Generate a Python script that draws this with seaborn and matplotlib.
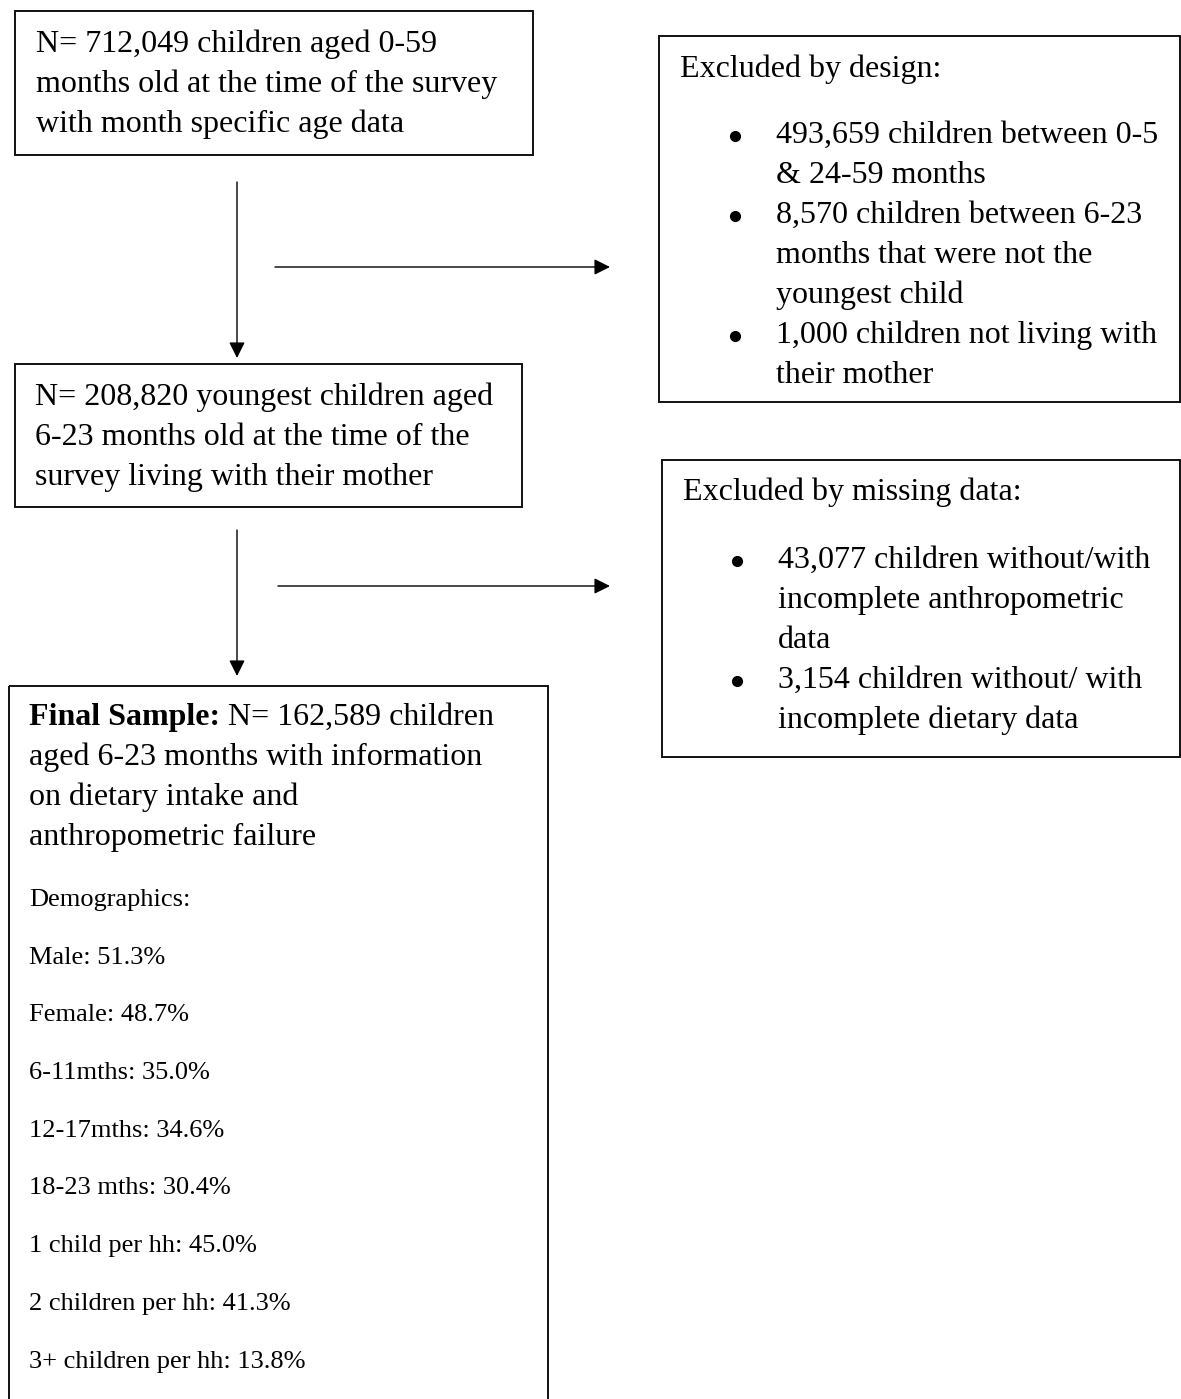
import matplotlib.pyplot as plt
import seaborn as sns
from matplotlib.patches import Rectangle

# ---- texts of the flow chart ----
start_lines = ["N= 712,049 children aged 0-59",
               "months old at the time of the survey",
               "with month specific age data"]
design_title = "Excluded by design:"
design_items = [["493,659 children between 0-5", "& 24-59 months"],
                ["8,570 children between 6-23", "months that were not the", "youngest child"],
                ["1,000 children not living with", "their mother"]]
eligible_lines = ["N= 208,820 youngest children aged",
                  "6-23 months old at the time of the",
                  "survey living with their mother"]
missing_title = "Excluded by missing data:"
missing_items = [["43,077 children without/with", "incomplete anthropometric", "data"],
                 ["3,154 children without/ with", "incomplete dietary data"]]
final_label = "Final Sample:"
final_lines = ["N= 162,589 children",
               "aged 6-23 months with information",
               "on dietary intake and",
               "anthropometric failure"]
demo_title = "Demographics:"
demo_groups = ["Male", "Female", "6-11mths", "12-17mths", "18-23 mths",
               "1 child per hh", "2 children per hh", "3+ children per hh"]
demo_pct = [51.3, 48.7, 35.0, 34.6, 30.4, 45.0, 41.3, 13.8]

sns.set_theme(style='white')
plt.rcParams['font.family'] = ['Liberation Serif', 'DejaVu Serif']
plt.rcParams['text.color'] = 'black'

fig = plt.figure(figsize=(11.81, 13.99), dpi=100)
ax = fig.add_axes([0, 0, 1, 1])
ax.set_xlim(0, 1181)
ax.set_ylim(1399, 0)
ax.axis('off')

FS = 23
LW = 1.4
STEP = 40


def box(x0, y0, x1, y1):
    ax.add_patch(Rectangle((x0, y0), x1 - x0, y1 - y0, fill=False,
                           edgecolor='#111111', linewidth=LW))


def arrow(x0, y0, x1, y1):
    ax.annotate('', xy=(x1, y1), xytext=(x0, y0),
                arrowprops=dict(arrowstyle='-|>', color='black', lw=1.0,
                                mutation_scale=24, shrinkA=0, shrinkB=0))


def lines(x, y0, step, texts, size=FS):
    for i, t in enumerate(texts):
        ax.text(x, y0 + i * step, t, fontsize=size, va='baseline', ha='left')


def bullets(xb, xt, y0, items):
    y = y0
    for item in items:
        ax.plot(xb, y - 7, marker='o', markersize=7, color='black')
        for t in item:
            ax.text(xt, y, t, fontsize=FS, va='baseline', ha='left')
            y += STEP


# box 1
box(15, 11, 533, 155)
lines(36, 52, STEP, start_lines)

# arrows from box 1
arrow(237, 182, 237, 358)
arrow(275, 267, 610, 267)

# excluded by design
box(659, 36, 1180, 402)
lines(680, 77, STEP, [design_title])
bullets(735, 776, 143, design_items)

# box 2
box(15, 364, 522, 507)
lines(35, 405, STEP, eligible_lines)

# arrows from box 2
arrow(237, 530, 237, 676)
arrow(278, 586, 610, 586)

# excluded by missing data
box(662, 460, 1180, 757)
lines(683, 500, STEP, [missing_title])
bullets(737, 778, 568, missing_items)

# final sample box (runs off the bottom)
box(9, 686, 548, 1420)
lab = ax.text(29, 725, final_label, fontsize=23, fontweight='bold',
              va='baseline', ha='left')
ax.annotate(' ' + final_lines[0], xy=(1, 0), xycoords=lab, va='bottom',
            ha='left', fontsize=23)
lines(29, 765, STEP, final_lines[1:], size=23)

demo_texts = [demo_title] + [f"{g}: {p:.1f}%" for g, p in zip(demo_groups, demo_pct)]
lines(29, 906, 57.7, demo_texts, size=19)

fig.savefig('out.png', dpi=100)
